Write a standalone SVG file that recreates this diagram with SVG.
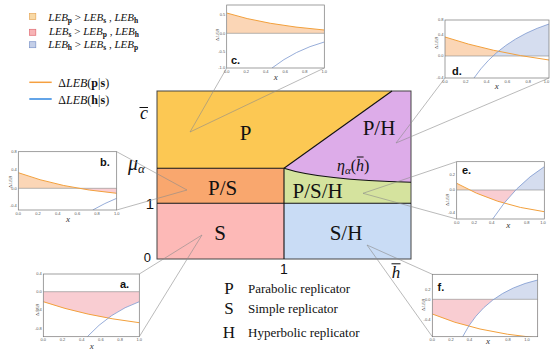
<svg xmlns="http://www.w3.org/2000/svg" width="550" height="351" viewBox="0 0 550 351">
<style>
.sf{font-family:"Liberation Serif","DejaVu Serif",serif;fill:#111}
.it{font-style:italic}
.rl{font-family:"Liberation Serif","DejaVu Serif",serif;font-size:21px;fill:#111;text-anchor:middle}
.num{font-family:"Liberation Sans",Arial,sans-serif;fill:#111}
.tk{font-family:"Liberation Sans",Arial,sans-serif;font-size:4px;fill:#555}
.tkl{text-anchor:end}
.tkb{text-anchor:middle}
.yl{font-family:"Liberation Serif",serif;font-size:5px;fill:#444;text-anchor:middle}
.xl{font-family:"Liberation Serif",serif;font-style:italic;font-size:9px;fill:#333;text-anchor:middle}
.il{font-family:"Liberation Sans",Arial,sans-serif;font-weight:bold;font-size:11px;fill:#111}
.frame{fill:none;stroke:#777;stroke-width:0.7}
.zero{stroke:#888;stroke-width:0.6}
.oc{fill:none;stroke:#F2A03C;stroke-width:1}
.bc{fill:none;stroke:#7C98CF;stroke-width:0.8}
.of{fill:#FBD6B6}
.pf{fill:#F9CDD2}
.bf{fill:#D5DDEF}
.wf{fill:#fff}
.bd{fill:none;stroke:#111;stroke-width:1.1}
.cn{stroke:#8c8c8c;stroke-width:0.6;fill:none}
.bar{stroke:#111;stroke-width:1}
</style>
<defs>
<clipPath id="ca"><rect x="43.3" y="274" width="96" height="62.7"/></clipPath>
<clipPath id="cb"><rect x="18.3" y="151.7" width="98.4" height="58.3"/></clipPath>
<clipPath id="cbz"><rect x="18.3" y="151.7" width="98.4" height="36.6"/></clipPath>
<clipPath id="ccz"><rect x="226.7" y="5" width="97.6" height="28.3"/></clipPath>
<clipPath id="cc"><rect x="226.7" y="5" width="97.6" height="63"/></clipPath>
<clipPath id="cd"><rect x="445" y="20" width="104" height="58"/></clipPath>
<clipPath id="cdz"><rect x="445" y="20" width="104" height="36"/></clipPath>
<clipPath id="ce"><rect x="456.7" y="161.7" width="87.6" height="57.3"/></clipPath>
<clipPath id="cez"><rect x="456.7" y="161.7" width="87.6" height="28.3"/></clipPath>
<clipPath id="cf"><rect x="432.3" y="274.3" width="105.4" height="62.4"/></clipPath>
<clipPath id="cfz"><rect x="432.3" y="274.3" width="105.4" height="25"/></clipPath>
</defs>
<rect width="550" height="351" fill="#fff"/>

<g id="legend-top">
<rect x="29.5" y="13.5" width="6.3" height="6" fill="#F8D9A6" stroke="#E6A85A" stroke-width="0.7"/>
<rect x="29.5" y="29.3" width="6.3" height="6" fill="#F7B4B6" stroke="#E06C74" stroke-width="0.7"/>
<rect x="29.5" y="41.7" width="6.3" height="6" fill="#C4CFE8" stroke="#7D95C9" stroke-width="0.7"/>
<text class="sf" x="48.3" y="21" font-size="11"><tspan class="it">LEB</tspan><tspan font-size="7.5" font-weight="bold" dy="2">p</tspan><tspan dy="-2"> &gt; </tspan><tspan class="it">LEB</tspan><tspan font-size="7.5" font-weight="bold" dy="2">s</tspan><tspan dy="-2"> , </tspan><tspan class="it">LEB</tspan><tspan font-size="7.5" font-weight="bold" dy="2">h</tspan></text>
<text class="sf" x="49" y="35" font-size="11"><tspan class="it">LEB</tspan><tspan font-size="7.5" font-weight="bold" dy="2">s</tspan><tspan dy="-2"> &gt; </tspan><tspan class="it">LEB</tspan><tspan font-size="7.5" font-weight="bold" dy="2">p</tspan><tspan dy="-2"> , </tspan><tspan class="it">LEB</tspan><tspan font-size="7.5" font-weight="bold" dy="2">h</tspan></text>
<text class="sf" x="48.3" y="48.3" font-size="11"><tspan class="it">LEB</tspan><tspan font-size="7.5" font-weight="bold" dy="2">h</tspan><tspan dy="-2"> &gt; </tspan><tspan class="it">LEB</tspan><tspan font-size="7.5" font-weight="bold" dy="2">s</tspan><tspan dy="-2"> , </tspan><tspan class="it">LEB</tspan><tspan font-size="7.5" font-weight="bold" dy="2">p</tspan></text>
<line x1="29.3" y1="82.3" x2="51.7" y2="82.3" stroke="#F5A040" stroke-width="1.5"/>
<line x1="29.3" y1="99" x2="51.7" y2="99" stroke="#2F86E0" stroke-width="1.5"/>
<text class="sf" x="58.3" y="87" font-size="12">Δ<tspan class="it">LEB</tspan>(<tspan font-weight="bold">p</tspan>|<tspan font-weight="bold">s</tspan>)</text>
<text class="sf" x="58.3" y="104" font-size="12">Δ<tspan class="it">LEB</tspan>(<tspan font-weight="bold">h</tspan>|<tspan font-weight="bold">s</tspan>)</text>
</g>

<g id="region-P"><path d="M157,91 L392,91 L284,168.3 L157,168.3 Z" fill="#FCC853"/><text class="rl" x="245.7" y="139.7">P</text></g>
<g id="region-PH"><path d="M392,91 L411,91 L411,182.3 Q320,180 284,168.3 Z" fill="#DDACE9"/><text class="rl" x="379" y="135">P/H</text></g>
<g id="region-PSH"><path d="M284,168.3 Q320,180 411,182.3 L411,203.3 L284,203.3 Z" fill="#D5E39E"/><text class="rl" x="317.7" y="198">P/S/H</text></g>
<g id="region-PS"><rect x="157" y="168.3" width="127" height="35" fill="#F9A76E"/><text class="rl" x="222.7" y="195">P/S</text></g>
<g id="region-S"><rect x="157" y="203.3" width="127" height="55.7" fill="#FDB9B7"/><text class="rl" x="220" y="239.7">S</text></g>
<g id="region-SH"><rect x="284" y="203.3" width="127" height="55.7" fill="#C9DCF5"/><text class="rl" x="346" y="240">S/H</text></g>

<g id="boundaries">
<rect x="157" y="91" width="254" height="168" fill="none" stroke="#444" stroke-width="1"/>
<line class="bd" x1="157" y1="168.3" x2="284" y2="168.3"/>
<line class="bd" x1="284" y1="168.3" x2="392" y2="91"/>
<path class="bd" d="M284,168.3 Q320,180 411,182.3"/>
<line class="bd" x1="157" y1="203.3" x2="411" y2="203.3"/>
<line class="bd" x1="284" y1="168.3" x2="284" y2="259"/>
</g>

<g id="eta-label">
<text class="sf" x="337" y="171" font-size="16"><tspan class="it">η</tspan><tspan class="it" font-size="11" dy="3">α</tspan><tspan dy="-3">(</tspan><tspan class="it">h</tspan>)</text>
<line class="bar" x1="356.8" y1="157" x2="363.6" y2="157"/>
</g>

<g id="axis-labels">
<text class="sf it" x="144" y="118.5" font-size="18" text-anchor="middle">c</text>
<line class="bar" x1="139.5" y1="107.5" x2="148" y2="107.5"/>
<text class="sf" x="128" y="170" font-size="20"><tspan class="it">μ</tspan><tspan class="it" font-size="13" dy="3">α</tspan></text>
<text class="num" x="154" y="208.5" font-size="15" text-anchor="end">1</text>
<text class="num" x="151" y="262" font-size="13" text-anchor="end">0</text>
<text class="num" x="284" y="273.5" font-size="14" text-anchor="middle">1</text>
<text class="sf it" x="396" y="277.5" font-size="17" text-anchor="middle">h</text>
<line class="bar" x1="391.5" y1="263.8" x2="400.5" y2="263.8"/>
</g>

<g id="legend-bottom">
<text class="sf" x="229" y="294" font-size="17" text-anchor="middle">P</text>
<text class="sf" x="248" y="293" font-size="13">Parabolic replicator</text>
<text class="sf" x="229" y="314" font-size="17" text-anchor="middle">S</text>
<text class="sf" x="248" y="313" font-size="13">Simple replicator</text>
<text class="sf" x="229" y="338" font-size="17" text-anchor="middle">H</text>
<text class="sf" x="248" y="337" font-size="13">Hyperbolic replicator</text>
</g>

<g id="connectors">
<line class="cn" x1="190" y1="132" x2="226.7" y2="68"/>
<line class="cn" x1="190" y1="132" x2="324.3" y2="68"/>
<line class="cn" x1="396" y1="143" x2="445" y2="78"/>
<line class="cn" x1="396" y1="143" x2="549" y2="78"/>
<line class="cn" x1="187" y1="190" x2="116.7" y2="151.7"/>
<line class="cn" x1="187" y1="190" x2="116.7" y2="210"/>
<line class="cn" x1="363" y1="193.3" x2="456.7" y2="161.7"/>
<line class="cn" x1="363" y1="193.3" x2="456.7" y2="219"/>
<line class="cn" x1="202" y1="235" x2="139.3" y2="274"/>
<line class="cn" x1="202" y1="235" x2="139.3" y2="336.7"/>
<line class="cn" x1="367" y1="245" x2="432.3" y2="274.3"/>
<line class="cn" x1="367" y1="245" x2="432.3" y2="336.7"/>
</g>

<g id="inset-a">
<rect x="43.3" y="274" width="96" height="62.7" fill="#fff"/>
<g clip-path="url(#ca)">
<rect class="pf" x="43.3" y="291.7" width="96" height="45"/>
<path class="wf" d="M43.3,301.7 Q85,316 139.3,322.7 L139.3,340 L43.3,340 Z"/>
<path class="wf" d="M87.3,336.7 Q110,312 139.3,301.7 L139.3,340 L87.3,340 Z"/>
<line class="zero" x1="43.3" y1="291.7" x2="139.3" y2="291.7"/>
<path class="oc" d="M43.3,301.7 Q85,316 139.3,322.7"/>
<path class="bc" d="M87.3,336.7 Q110,312 139.3,301.7"/>
</g>
<rect class="frame" x="43.3" y="274" width="96" height="62.7"/>
<text class="il" x="120" y="288">a.</text>
<text class="tk tkl" x="41.8" y="275.4">0.4</text><text class="tk tkl" x="41.8" y="293.1">0.0</text><text class="tk tkl" x="41.8" y="311.4">-0.4</text><text class="tk tkl" x="41.8" y="329.7">-0.8</text>
<text class="tk tkb" x="43.3" y="341">0.0</text><text class="tk tkb" x="62.5" y="341">0.2</text><text class="tk tkb" x="81.7" y="341">0.4</text><text class="tk tkb" x="100.9" y="341">0.6</text><text class="tk tkb" x="120.1" y="341">0.8</text><text class="tk tkb" x="139.3" y="341">1.0</text>
<text class="yl" transform="translate(39.3,310) rotate(-90)">Δ<tspan font-style="italic">LEB</tspan></text>
<text class="xl" x="91.7" y="348.5">x</text>
</g>

<g id="inset-b">
<rect x="18.3" y="151.7" width="98.4" height="58.3" fill="#fff"/>
<g clip-path="url(#cb)">
<rect class="pf" x="18.3" y="188.3" width="98.4" height="21.7"/>
<path class="wf" d="M18.3,172.7 Q60,188 116.7,193.3 L116.7,212 L18.3,212 Z"/>
<path class="wf" d="M92.7,210 Q105,203 116.7,198.3 L116.7,212 Z"/>
<path class="of" clip-path="url(#cbz)" d="M18.3,172.7 Q60,188 116.7,193.3 L116.7,212 L18.3,212 Z"/>
<line class="zero" x1="18.3" y1="188.3" x2="116.7" y2="188.3"/>
<path class="oc" d="M18.3,172.7 Q60,188 116.7,193.3"/>
<path class="bc" d="M92.7,210 Q105,203 116.7,198.3"/>
</g>
<rect class="frame" x="18.3" y="151.7" width="98.4" height="58.3"/>
<text class="il" x="100" y="166">b.</text>
<text class="tk tkl" x="16.8" y="153.4">0.8</text><text class="tk tkl" x="16.8" y="171.4">0.4</text><text class="tk tkl" x="16.8" y="189.7">0.0</text><text class="tk tkl" x="16.8" y="207.4">-0.4</text>
<text class="tk tkb" x="18.3" y="214.5">0.0</text><text class="tk tkb" x="38" y="214.5">0.2</text><text class="tk tkb" x="57.7" y="214.5">0.4</text><text class="tk tkb" x="77.4" y="214.5">0.6</text><text class="tk tkb" x="97" y="214.5">0.8</text><text class="tk tkb" x="116.7" y="214.5">1.0</text>
<text class="yl" transform="translate(11.5,182) rotate(-90)">Δ<tspan font-style="italic">LEB</tspan></text>
<text class="xl" x="68" y="221.5">x</text>
</g>

<g id="inset-c">
<rect x="226.7" y="5" width="97.6" height="63" fill="#fff"/>
<g clip-path="url(#cc)">
<path class="of" clip-path="url(#ccz)" d="M226.7,13 Q265,25 324.3,30 L324.3,70 L226.7,70 Z"/>
<line class="zero" x1="226.7" y1="33.3" x2="324.3" y2="33.3"/>
<path class="oc" d="M226.7,13 Q265,25 324.3,30"/>
<path class="bc" d="M272,68 Q295,50 324.3,42"/>
</g>
<rect class="frame" x="226.7" y="5" width="97.6" height="63"/>
<text class="il" x="231" y="64">c.</text>
<text class="tk tkl" x="225.2" y="16.4">0.5</text><text class="tk tkl" x="225.2" y="34.7">0.0</text><text class="tk tkl" x="225.2" y="53.1">-0.5</text><text class="tk tkl" x="225.2" y="69.4">-1.0</text>
<text class="tk tkb" x="226.7" y="72.5">0.0</text><text class="tk tkb" x="246.2" y="72.5">0.2</text><text class="tk tkb" x="265.7" y="72.5">0.4</text><text class="tk tkb" x="285.3" y="72.5">0.6</text><text class="tk tkb" x="304.8" y="72.5">0.8</text><text class="tk tkb" x="324.3" y="72.5">1.0</text>
<text class="yl" transform="translate(219,35) rotate(-90)">Δ<tspan font-style="italic">LEB</tspan></text>
<text class="xl" x="275.7" y="79.5">x</text>
</g>

<g id="inset-d">
<rect x="445" y="20" width="104" height="58" fill="#fff"/>
<g clip-path="url(#cd)">
<path class="of" clip-path="url(#cdz)" d="M445,37 Q490,52 549,60 L549,80 L445,80 Z"/>
<path class="bf" clip-path="url(#cdz)" d="M474,78 Q500,40 549,24 L549,80 Z"/>
<line class="zero" x1="445" y1="56" x2="549" y2="56"/>
<path class="oc" d="M445,37 Q490,52 549,60"/>
<path class="bc" d="M474,78 Q500,40 549,24"/>
</g>
<rect class="frame" x="445" y="20" width="104" height="58"/>
<text class="il" x="452" y="75">d.</text>
<text class="tk tkl" x="443.5" y="21.4">0.8</text><text class="tk tkl" x="443.5" y="36.4">0.4</text><text class="tk tkl" x="443.5" y="57.4">0.0</text><text class="tk tkl" x="443.5" y="79.4">-0.4</text>
<text class="tk tkb" x="445" y="82.5">0.0</text><text class="tk tkb" x="465.8" y="82.5">0.2</text><text class="tk tkb" x="486.6" y="82.5">0.4</text><text class="tk tkb" x="507.4" y="82.5">0.6</text><text class="tk tkb" x="528.2" y="82.5">0.8</text><text class="tk tkb" x="546.5" y="82.5">1.0</text>
<text class="yl" transform="translate(438,43) rotate(-90)">Δ<tspan font-style="italic">LEB</tspan></text>
<text class="xl" x="496.7" y="89">x</text>
</g>

<g id="inset-e">
<rect x="456.7" y="161.7" width="87.6" height="57.3" fill="#fff"/>
<g clip-path="url(#ce)">
<rect class="pf" x="456.7" y="190" width="87.6" height="29"/>
<path class="wf" d="M456.7,183.3 Q495,205 544.3,211.7 L544.3,222 L456.7,222 Z"/>
<path class="wf" d="M492.7,219 Q515,185 544.3,166.7 L544.3,222 Z"/>
<path class="of" clip-path="url(#cez)" d="M456.7,183.3 Q495,205 544.3,211.7 L544.3,222 L456.7,222 Z"/>
<path class="bf" clip-path="url(#cez)" d="M492.7,219 Q515,185 544.3,166.7 L544.3,222 Z"/>
<line class="zero" x1="456.7" y1="190" x2="544.3" y2="190"/>
<path class="oc" d="M456.7,183.3 Q495,205 544.3,211.7"/>
<path class="bc" d="M492.7,219 Q515,185 544.3,166.7"/>
</g>
<rect class="frame" x="456.7" y="161.7" width="87.6" height="57.3"/>
<text class="il" x="462" y="174">e.</text>
<text class="tk tkl" x="455" y="176.4">0.2</text><text class="tk tkl" x="455" y="191.4">0.0</text><text class="tk tkl" x="455" y="214.1">-0.4</text>
<text class="tk tkb" x="456.7" y="223.5">0.0</text><text class="tk tkb" x="474.2" y="223.5">0.2</text><text class="tk tkb" x="491.8" y="223.5">0.4</text><text class="tk tkb" x="526.8" y="223.5">0.8</text><text class="tk tkb" x="543" y="223.5">1.0</text>
<text class="yl" transform="translate(449,200) rotate(-90)">Δ<tspan font-style="italic">LEB</tspan></text>
<text class="xl" x="508.3" y="228">x</text>
</g>

<g id="inset-f">
<rect x="432.3" y="274.3" width="105.4" height="62.4" fill="#fff"/>
<g clip-path="url(#cf)">
<rect class="pf" x="432.3" y="299.3" width="105.4" height="37.4"/>
<path class="wf" d="M432.3,314 Q475,332 537.7,338 L537.7,340 L432.3,340 Z"/>
<path class="wf" d="M462.7,336.7 Q485,292 537.7,280 L537.7,340 Z"/>
<path class="bf" clip-path="url(#cfz)" d="M462.7,336.7 Q485,292 537.7,280 L537.7,340 Z"/>
<line class="zero" x1="432.3" y1="299.3" x2="537.7" y2="299.3"/>
<path class="oc" d="M432.3,314 Q475,332 537.7,338"/>
<path class="bc" d="M462.7,336.7 Q485,292 537.7,280"/>
</g>
<rect class="frame" x="432.3" y="274.3" width="105.4" height="62.4"/>
<text class="il" x="437.5" y="291">f.</text>
<text class="tk tkl" x="430.5" y="290.7">0.2</text><text class="tk tkl" x="430.5" y="300.7">0.0</text><text class="tk tkl" x="430.5" y="320.7">-0.4</text>
<text class="tk tkb" x="432.3" y="341">0.0</text><text class="tk tkb" x="451" y="341">0.2</text><text class="tk tkb" x="469.5" y="341">0.4</text><text class="tk tkb" x="508" y="341">0.8</text><text class="tk tkb" x="527" y="341">1.0</text>
<text class="yl" transform="translate(424.5,305) rotate(-90)">Δ<tspan font-style="italic">LEB</tspan></text>
<text class="xl" x="488" y="343.5">x</text>
</g>
</svg>
